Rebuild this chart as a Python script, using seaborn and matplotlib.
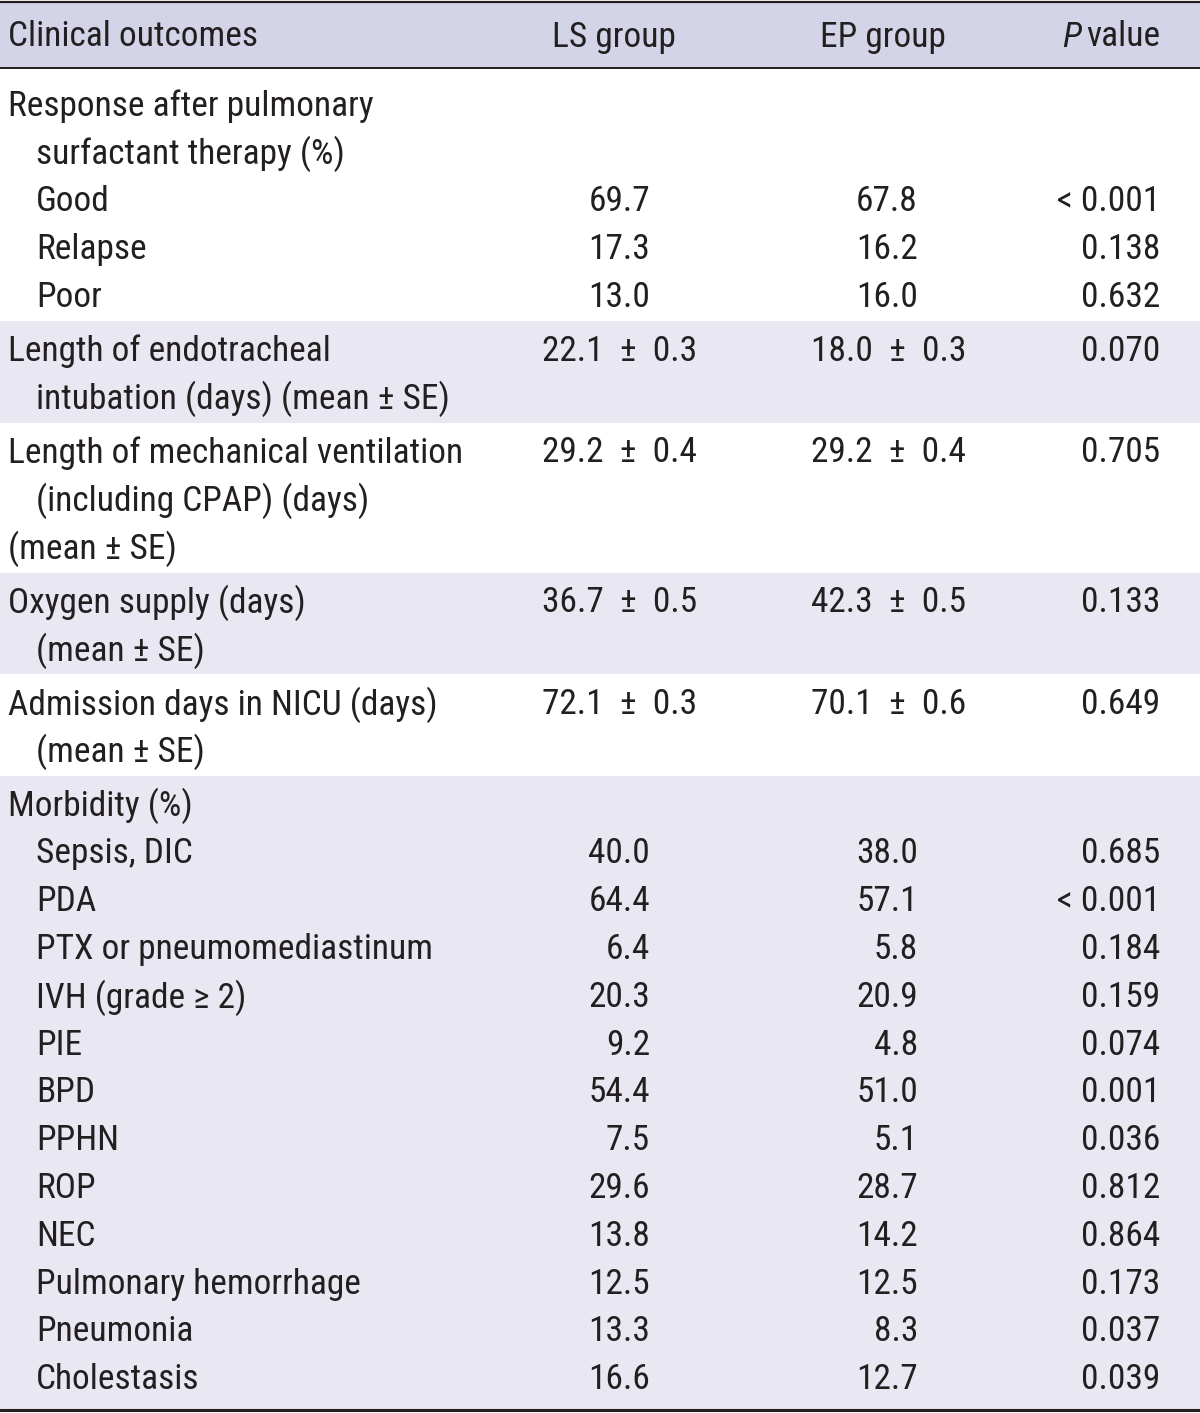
import matplotlib
matplotlib.use("Agg")
import matplotlib.pyplot as plt
from matplotlib import font_manager
import seaborn as sns

# Table content, one entry per printed line
outcome_lines = [
    "Response after pulmonary", "surfactant therapy (%)", "Good", "Relapse", "Poor",
    "Length of endotracheal", "intubation (days) (mean \u00b1 SE)",
    "Length of mechanical ventilation", "(including CPAP) (days)", "(mean \u00b1 SE)",
    "Oxygen supply (days)", "(mean \u00b1 SE)",
    "Admission days in NICU (days)", "(mean \u00b1 SE)",
    "Morbidity (%)", "Sepsis, DIC", "PDA", "PTX or pneumomediastinum",
    "IVH (grade \u2265 2)", "PIE", "BPD", "PPHN", "ROP", "NEC",
    "Pulmonary hemorrhage", "Pneumonia", "Cholestasis",
]
line_indent = [0, 1, 1, 1, 1, 0, 1, 0, 1, 0, 0, 1, 0, 1,
               0, 1, 1, 1, 1, 1, 1, 1, 1, 1, 1, 1, 1]
line_group = [0, 0, 0, 0, 0, 1, 1, 2, 2, 2, 3, 3, 4, 4,
              5, 5, 5, 5, 5, 5, 5, 5, 5, 5, 5, 5, 5]
ls_group = ["", "", "69.7", "17.3", "13.0", "22.1 \u00b1 0.3", "", "29.2 \u00b1 0.4", "", "",
            "36.7 \u00b1 0.5", "", "72.1 \u00b1 0.3", "",
            "", "40.0", "64.4", "6.4", "20.3", "9.2", "54.4", "7.5", "29.6", "13.8",
            "12.5", "13.3", "16.6"]
ep_group = ["", "", "67.8", "16.2", "16.0", "18.0 \u00b1 0.3", "", "29.2 \u00b1 0.4", "", "",
            "42.3 \u00b1 0.5", "", "70.1 \u00b1 0.6", "",
            "", "38.0", "57.1", "5.8", "20.9", "4.8", "51.0", "5.1", "28.7", "14.2",
            "12.5", "8.3", "12.7"]
p_values = ["", "", "< 0.001", "0.138", "0.632", "0.070", "", "0.705", "", "",
            "0.133", "", "0.649", "",
            "", "0.685", "< 0.001", "0.184", "0.159", "0.074", "0.001", "0.036", "0.812", "0.864",
            "0.173", "0.037", "0.039"]
shaded_groups = [1, 3, 5]

sns.set_theme(style="white")

# prefer a condensed face if one is installed
installed = {f.name for f in font_manager.fontManager.ttflist}
fs = 24
family = "Liberation Sans"
for name, size in [("Roboto Condensed", 25.5), ("Liberation Sans Narrow", 26),
                   ("Open Sans Condensed", 25)]:
    if name in installed:
        family, fs = name, size
        break
plt.rcParams["font.family"] = [family, "DejaVu Sans"]

W, H = 1200, 1413
fig = plt.figure(figsize=(W / 100, H / 100), dpi=100)
ax = fig.add_axes([0, 0, 1, 1])
ax.set_xlim(0, W)
ax.set_ylim(H, 0)
ax.axis("off")

ink = "#231f20"
pitch = 47.8

# line positions
ys = []
bounds = {line_group[0]: [68, None]}
y = 104
for i, g in enumerate(line_group):
    if i > 0:
        if g != line_group[i - 1]:
            b = ys[-1] + 26
            bounds[g] = [b, None]
            bounds[line_group[i - 1]][1] = b
            y = b + 28
        else:
            y = ys[-1] + pitch
    ys.append(y)
bounds[line_group[-1]][1] = 1410

# backgrounds and rules
ax.axhspan(2, 68, color="#d4d4e8", lw=0)
for g in shaded_groups:
    ax.axhspan(bounds[g][0], bounds[g][1], color="#e9e8f2", lw=0)
ax.axhline(2, color=ink, lw=1.6)
ax.axhline(68, color=ink, lw=1.4)
ax.axhline(1410, color=ink, lw=2.2)

yc = 37
ax.text(8, yc, "Clinical outcomes", fontsize=fs, color=ink, va="center", ha="left")
ax.text(614, yc, "LS group", fontsize=fs, color=ink, va="center", ha="center")
ax.text(883, yc, "EP group", fontsize=fs, color=ink, va="center", ha="center")
tv = ax.text(1160, yc, "value", fontsize=fs, color=ink, va="center", ha="right")
fig.canvas.draw()
bb = tv.get_window_extent().transformed(ax.transData.inverted())
ax.text(min(bb.x0, bb.x1) - 5, yc, "P", fontsize=fs, color=ink, va="center", ha="right",
        style="italic")

for i, txt in enumerate(outcome_lines):
    yy = ys[i] + 2
    ax.text(8 + 28 * line_indent[i], yy, txt, fontsize=fs, color=ink, va="center", ha="left")
    if ls_group[i]:
        x = 697 if "\u00b1" in ls_group[i] else 650
        ax.text(x, yy, ls_group[i].replace(" \u00b1 ", "  \u00b1  "), fontsize=fs, color=ink,
                va="center", ha="right")
    if ep_group[i]:
        x = 966 if "\u00b1" in ep_group[i] else 918
        ax.text(x, yy, ep_group[i].replace(" \u00b1 ", "  \u00b1  "), fontsize=fs, color=ink,
                va="center", ha="right")
    if p_values[i]:
        ax.text(1160, yy, p_values[i], fontsize=fs, color=ink, va="center", ha="right")

fig.savefig("out.png", dpi=100)
